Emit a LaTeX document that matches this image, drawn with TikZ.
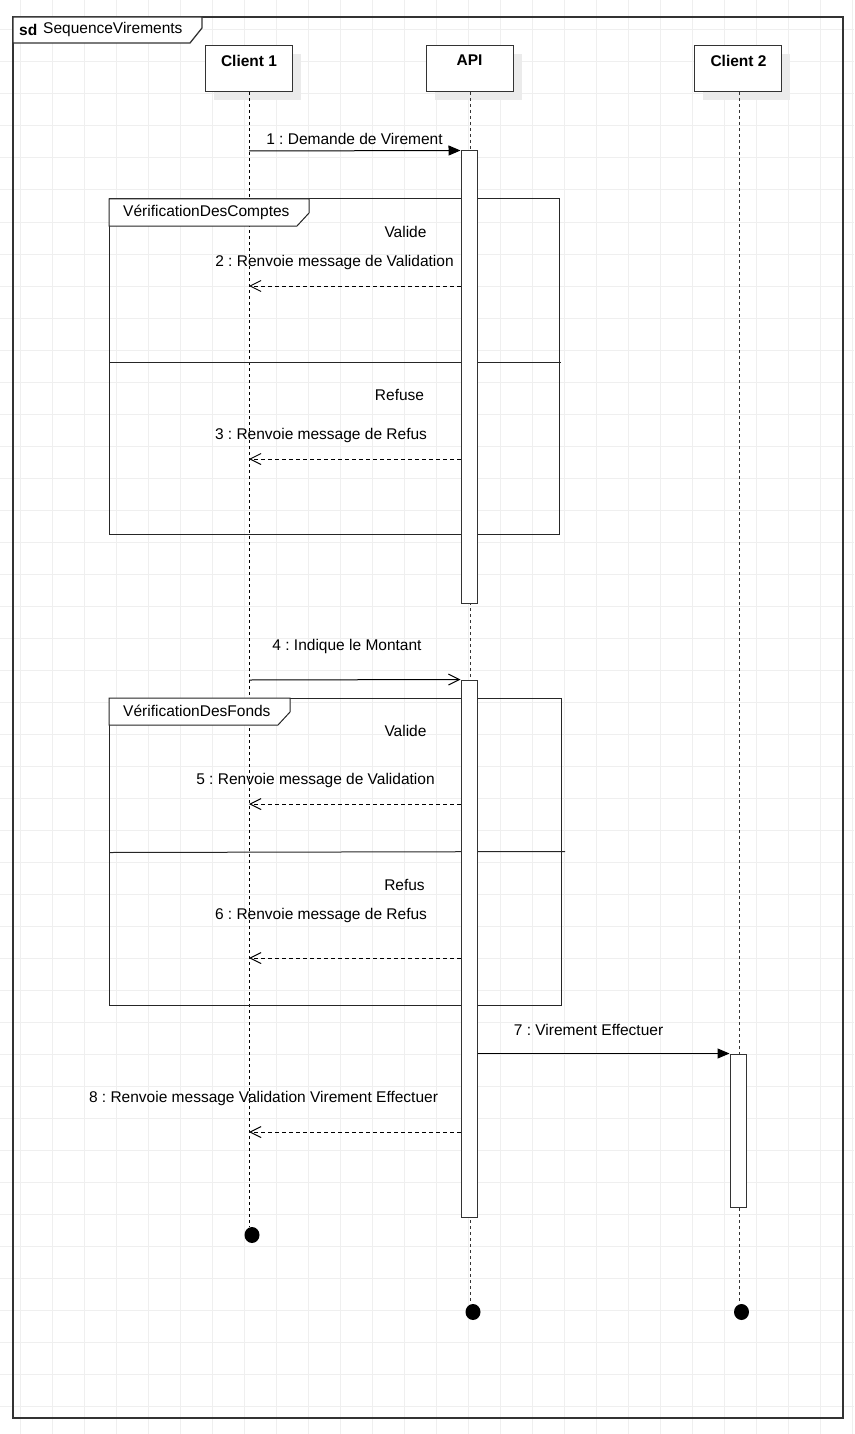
\documentclass[tikz,border=0pt]{standalone}
\usepackage{fontspec}
\setmainfont{Liberation Sans}
\usetikzlibrary{arrows.meta,shapes.geometric}
\definecolor{gridc}{HTML}{EFEFEF}
\definecolor{shad}{HTML}{EBEBEB}
\definecolor{linec}{HTML}{333333}
\tikzset{
  lbl/.style={font=\fontsize{15.5}{18}\selectfont\frenchspacing, inner sep=0pt, anchor=center},
  headlbl/.style={font=\fontsize{15.5}{18}\selectfont\bfseries, inner sep=0pt, anchor=center},
  headbox/.style={draw=linec, line width=1pt, fill=white, minimum width=87pt, minimum height=46pt, inner sep=0pt},
  headshadow/.style={fill=shad, draw=none, minimum width=87pt, minimum height=46pt, inner sep=0pt},
  actbar/.style={draw=linec, line width=1pt, fill=white, minimum width=16pt, inner sep=0pt},
  lifeline/.style={draw=linec, line width=1pt, dash pattern=on 3pt off 3pt},
  frag/.style={draw=black!85, line width=1pt},
  syncmsg/.style={draw=black, line width=1pt, -{Triangle[length=12pt,width=10pt]}},
  asyncmsg/.style={draw=black, line width=1pt, -{Straight Barb[length=11pt,width=11pt,line width=1pt]}},
  replymsg/.style={draw=black, line width=1pt, dash pattern=on 4pt off 3pt, -{Straight Barb[length=11pt,width=11pt,line width=1pt]}},
  enddot/.style={fill=black, draw=none, ellipse, minimum width=15pt, minimum height=16pt, inner sep=0pt},
}
\begin{document}
\begin{tikzpicture}[x=1pt,y=-1pt]
\useasboundingbox (0,0) rectangle (854,1434);
% background grid
\foreach \gx in {20,52,...,852} \draw[gridc, line width=1pt] (\gx,0) -- (\gx,1434);
\foreach \gy in {30,62,...,1432} \draw[gridc, line width=1pt] (0,\gy) -- (854,\gy);

% outer frame
\draw[draw=linec, line width=1.3pt] (13,17) rectangle (843,1418);
\draw[draw=linec, line width=1.3pt, fill=white] (13,17) -- (202,17) -- (202,28) -- (190,43) -- (13,43) -- cycle;
\node[lbl, anchor=west] (sdkw) at (19,29.5) {\textbf{sd}};
\node[lbl, anchor=west] (sdname) at (43,29.5) {SequenceVirements};

% lifeline heads with shadows
\node[headshadow] (c1s) at (257,77) {};
\node[headshadow] (apis) at (478,77) {};
\node[headshadow] (c2s) at (746.5,77) {};
\node[headbox] (c1) at (248.5,69) {};
\node[headbox] (api) at (469.5,69) {};
\node[headbox] (c2) at (738,69) {};
\node[headlbl] (c1t) at (249,60.5) {Client 1};
\node[headlbl] (apit) at (469.5,60.5) {API};
\node[headlbl] (c2t) at (738.5,60.5) {Client 2};

% end points of lifelines
\node[enddot] (c1end) at (252,1235) {};
\node[enddot] (apiend) at (473,1312) {};
\node[enddot] (c2end) at (741.5,1312) {};

% lifelines
\coordinate (l1top) at (249,92);
\coordinate (l1bot) at (249,1227);
\coordinate (l2top) at (470,92);
\coordinate (l2bot) at (470,1304);
\coordinate (l3top) at (739,92);
\coordinate (l3bot) at (739,1304);
\draw[lifeline, draw=black] (l1top) -- (l1bot);
\draw[lifeline] (l2top) -- (l2bot);
\draw[lifeline] (l3top) -- (l3bot);

% activation bars
\node[actbar, minimum height=452pt] (act1) at (469,377) {};
\node[actbar, minimum height=537pt] (act2) at (469,948.5) {};
\node[actbar, minimum height=153pt] (act3) at (738,1130.5) {};

% fragment 1
\draw[frag] (109,199) rectangle (559,534);
\draw[frag, fill=white] (109,199) -- (309,199) -- (309,213) -- (297,226) -- (109,226) -- cycle;
\draw[frag] (109,362) -- (561,362);
\node[lbl, anchor=west] (f1name) at (123,212) {VérificationDesComptes};
\node[lbl] (g1a) at (405.5,231.5) {Valide};
\node[lbl] (g1b) at (399.5,394.5) {Refuse};

% fragment 2
\draw[frag] (109,698) rectangle (561,1005);
\draw[frag, fill=white] (109,698) -- (290,698) -- (290,712) -- (278,725) -- (109,725) -- cycle;
\draw[frag] (109,852.5) -- (565,851.5);
\node[lbl, anchor=west] (f2name) at (123,711) {VérificationDesFonds};
\node[lbl] (g2a) at (405.5,730.5) {Valide};
\node[lbl] (g2b) at (404.5,884.5) {Refus};

% redraw activation bars over fragments
\node[actbar, minimum height=452pt] at (469,377) {};
\node[actbar, minimum height=537pt] at (469,948.5) {};

% messages
\coordinate (m1s) at (249,151);
\coordinate (m2e) at (249,286);
\coordinate (m3e) at (249,459);
\coordinate (m4s) at (249,680);
\coordinate (m5e) at (249,804);
\coordinate (m6e) at (249,958);
\coordinate (m8e) at (249,1132);

\draw[syncmsg] (m1s) -- (act1.north west);
\node[lbl] (t1) at (354.5,138.5) {1 : Demande de Virement};

\draw[replymsg] (act1.west |- m2e) -- (m2e);
\node[lbl] (t2) at (334.5,262) {2 : Renvoie message de Validation};

\draw[replymsg] (act1.west |- m3e) -- (m3e);
\node[lbl] (t3) at (321,435) {3 : Renvoie message de Refus};

\draw[asyncmsg] (m4s) -- (act2.north west);
\node[lbl] (t4) at (347,646) {4 : Indique le Montant};

\draw[replymsg] (act2.west |- m5e) -- (m5e);
\node[lbl] (t5) at (315.5,780.5) {5 : Renvoie message de Validation};

\draw[replymsg] (act2.west |- m6e) -- (m6e);
\node[lbl] (t6) at (321,915) {6 : Renvoie message de Refus};

\draw[syncmsg] (act2.east |- act3.north) -- (act3.north west);
\node[lbl] (t7) at (588.5,1029.5) {7 : Virement Effectuer};

\draw[replymsg] (act2.west |- m8e) -- (m8e);
\node[lbl] (t8) at (263.5,1098) {8 : Renvoie message Validation Virement Effectuer};
\end{tikzpicture}
\end{document}
